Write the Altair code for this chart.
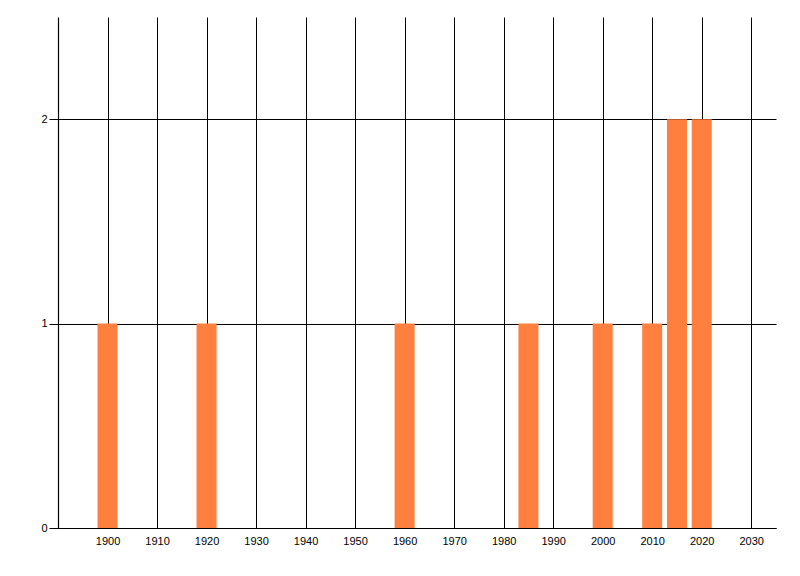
import altair as alt
import pandas as pd

years = [1900, 1920, 1960, 1985, 2000, 2010, 2015, 2020]
counts = [1, 1, 1, 1, 1, 1, 2, 2]
x_ticks = [1900, 1910, 1920, 1930, 1940, 1950, 1960, 1970, 1980, 1990, 2000, 2010, 2020, 2030]
y_ticks = [0, 1, 2]

df = pd.DataFrame({"year": years, "count": counts})

chart = (
    alt.Chart(df)
    .mark_bar(size=20, color="#FF7F3F")
    .encode(
        x=alt.X(
            "year:Q",
            title=None,
            scale=alt.Scale(domain=[1890, 2035], nice=False, zero=False, padding=0),
            axis=alt.Axis(values=x_ticks, format="d", tickSize=0, labelPadding=7),
        ),
        y=alt.Y(
            "count:Q",
            title=None,
            scale=alt.Scale(domain=[0, 2.5], nice=False),
            axis=alt.Axis(values=y_ticks, format="d", tickSize=9, labelPadding=2),
        ),
    )
    .properties(
        width=718,
        height=511,
        autosize="none",
        padding={"left": 50, "top": 9, "right": 16, "bottom": 40},
    )
    .configure_view(stroke=None)
    .configure_axis(
        grid=True,
        gridColor="black",
        gridOpacity=1,
        gridWidth=1,
        domainColor="black",
        domainWidth=1.2,
        tickColor="black",
        labelColor="black",
        labelFont="Liberation Sans",
        labelFontSize=11,
    )
)

chart.save("out.html", embed_options={"renderer": "svg", "actions": False})
